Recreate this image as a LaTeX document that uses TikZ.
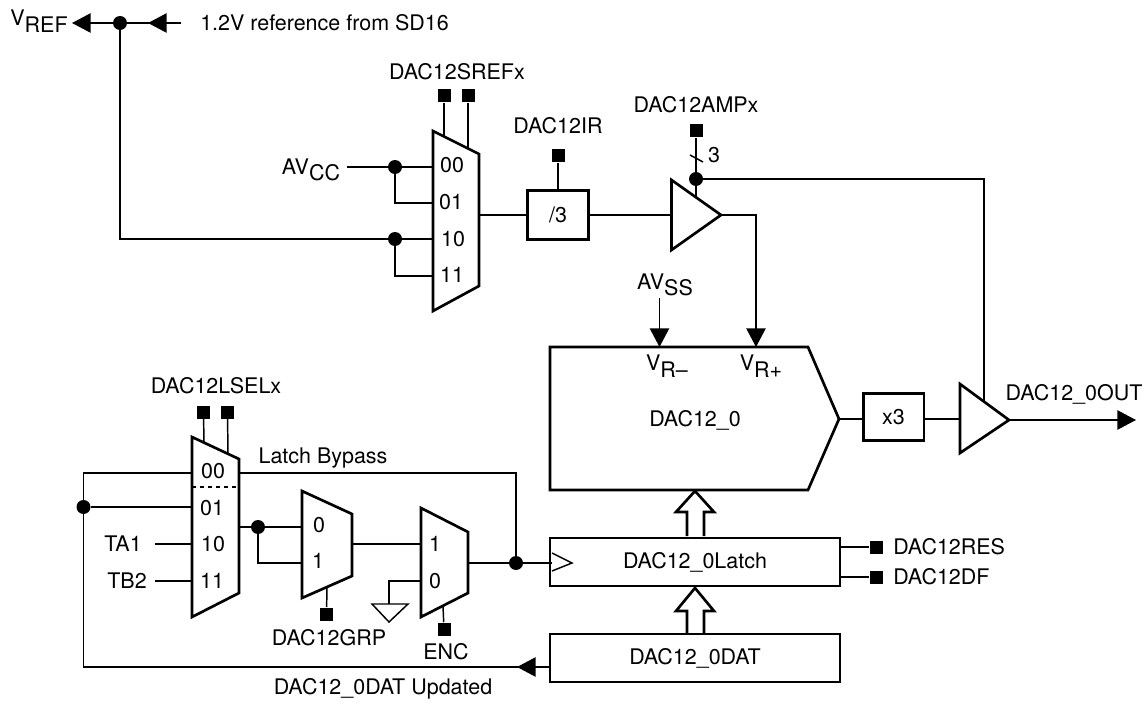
\documentclass[tikz,border=0pt]{standalone}
\usepackage{fontspec}
\setmainfont{TeX Gyre Heros}
\usetikzlibrary{arrows.meta}
\newcommand{\lowered}[2]{#1\raisebox{-5pt}{#2}}

\tikzset{
    wire/.style={line width=1.1pt},
    outline/.style={line width=2pt, line join=miter},
    flow/.style={line width=1.1pt, -{Triangle[length=14pt,width=14.5pt]}},
    textlabel/.style={inner sep=0pt, font=\fontsize{16.1}{19}\selectfont},
    blockbox/.style={draw, line width=2pt, inner sep=0pt, font=\fontsize{16.1}{19}\selectfont},
    junction/.style={circle, fill=black, inner sep=0pt, minimum size=10.5pt},
    pad/.style={rectangle, fill=black, inner sep=0pt, minimum size=9.75pt}
}

\begin{document}
\begin{tikzpicture}[x=0.75pt, y=-0.75pt, >=Stealth]

    \useasboundingbox (0,0) rectangle (1147,706);

    % reference select at the top
    \node[textlabel] (vref) at (39,21) {\lowered{V}{REF}};
    \node[textlabel, anchor=west] (refsrc) at (200,23) {1.2V reference from SD16};
    \node[junction] (vrefdot) at (120,23) {};
    \coordinate (vreftip) at (72,23);
    \coordinate (srctail) at (181,23);
    \coordinate (srctip) at (148,23);

    \draw[flow] (vrefdot) -- (vreftip);
    \draw[wire] (srctail) -- (vrefdot);
    \draw[flow] (srctail) -- (srctip);

    \draw[outline] (433,131) -- (479,154) -- (479,286) -- (433,311) -- cycle;
    \coordinate (srefa) at (433,167);
    \coordinate (srefb) at (433,203);
    \coordinate (srefc) at (433,239);
    \coordinate (srefd) at (433,276);
    \coordinate (srefout) at (480,215);
    \coordinate (srefsela) at (444,136);
    \coordinate (srefselb) at (468,149);

    \node[textlabel] at (452,165) {00};
    \node[textlabel] at (451,202) {01};
    \node[textlabel] at (453,239) {10};
    \node[textlabel] at (452,275) {11};
    \node[textlabel] at (457,72) {DAC12SREFx};

    \node[pad] (srefpada) at (444,96) {};
    \node[pad] (srefpadb) at (468,96) {};
    \draw[wire] (srefpada) -- (srefsela);
    \draw[wire] (srefpadb) -- (srefselb);

    \node[textlabel] (avcc) at (311,170) {\lowered{AV}{CC}};
    \coordinate (avcctail) at (347,167);
    \node[junction] (avccdot) at (395,167) {};
    \node[junction] (vrefin) at (395,239) {};

    \draw[wire] (avcctail) -- (srefa);
    \draw[wire] (avccdot) |- (srefb);
    \draw[wire] (vrefdot) |- (srefc);
    \draw[wire] (vrefin) |- (srefd);

    % divider and amplifier
    \node[blockbox, minimum width=46pt, minimum height=36.5pt] (div) at (558,215) {/3};
    \node[textlabel] at (558,126) {DAC12IR};
    \node[pad] (irpad) at (558,156) {};
    \draw[wire] (irpad) -- (div);
    \draw[wire] (srefout) -- (div);

    \draw[outline] (671.5,180) -- (721,215) -- (671.5,250) -- cycle;
    \coordinate (ampin) at (671.5,215);
    \coordinate (ampout) at (721,215);
    \coordinate (ampsel) at (696,197);
    \draw[wire] (div) -- (ampin);

    \node[textlabel] at (696,105) {DAC12AMPx};
    \node[pad] (amppad) at (696,131) {};
    \node[junction] (ampdot) at (696,179) {};
    \draw[wire] (amppad) -- (ampsel);
    \draw[wire] (690,155) -- (703,162);
    \node[textlabel] at (714,155) {3};

    % converter
    \draw[outline] (550,347) -- (808,347) -- (839,419) -- (808,490) -- (550,490) -- cycle;
    \coordinate (dacout) at (839,419);
    \coordinate (vrminus) at (659.5,347);
    \coordinate (vrplus) at (756,347);
    \coordinate (avsstail) at (659.5,298);

    \node[textlabel] (avss) at (665,285) {\lowered{AV}{SS}};
    \node[textlabel] at (667,366) {\lowered{V}{R--}};
    \node[textlabel] at (761,366) {\lowered{V}{R+}};
    \node[textlabel] (dac) at (695,420) {DAC12\_0};

    \draw[flow] (avsstail) -- (vrminus);
    \draw[flow] (ampout) -| (vrplus);

    \node[blockbox, minimum width=45.5pt, minimum height=35.5pt] (xthree) at (893.5,417) {x3};
    \draw[wire] (dacout) -- (xthree.west |- dacout);

    \draw[outline] (960,384) -- (1009,420) -- (960,453) -- cycle;
    \coordinate (bufin) at (960,419);
    \coordinate (bufout) at (1009,420);
    \coordinate (buffb) at (984,402);
    \coordinate (outtip) at (1136,420);
    \draw[wire] (xthree.east |- bufin) -- (bufin);
    \draw[flow] (bufout) -- (outtip);
    \draw[wire] (ampdot) -| (buffb);
    \node[textlabel] at (1074,394) {DAC12\_0OUT};

    % latch and data register
    \node[blockbox, minimum width=217.5pt, minimum height=36pt] (latch) at (695,562) {DAC12\_0Latch};
    \node[blockbox, minimum width=217.5pt, minimum height=36pt] (dat) at (695,658) {DAC12\_0DAT};

    \draw[outline] (687,536) -- (687,512) -- (676,512) -- (695,491) -- (714,512) -- (704,512) -- (704,536);
    \draw[outline] (687,633) -- (687,611) -- (676,611) -- (695,588) -- (714,611) -- (704,611) -- (704,633);
    \draw[wire] (552,553) -- (572,563) -- (552,571);

    \node[pad] (respad) at (876,547) {};
    \node[pad] (dfpad) at (876,577) {};
    \coordinate (resout) at (840,547);
    \coordinate (dfout) at (840,577);
    \draw[wire] (resout) -- (respad);
    \draw[wire] (dfout) -- (dfpad);
    \node[textlabel, anchor=west] at (893,547) {DAC12RES};
    \node[textlabel, anchor=west] at (893,577) {DAC12DF};

    % load select muxes
    \draw[outline] (192,437) -- (239,459) -- (239,593) -- (192,617) -- cycle;
    \draw[wire, dashed] (192,487) -- (239,487);
    \coordinate (lsela) at (192,473);
    \coordinate (lselb) at (192,507);
    \coordinate (lselc) at (192,544);
    \coordinate (lseld) at (192,581);
    \coordinate (lselbypass) at (239,473);
    \coordinate (lselout) at (239,527);
    \coordinate (lselseta) at (204,443);
    \coordinate (lselsetb) at (228,454);

    \node[textlabel] at (213,471) {00};
    \node[textlabel] at (212,508) {01};
    \node[textlabel] at (213,544) {10};
    \node[textlabel] at (212,581) {11};
    \node[textlabel] at (216,386) {DAC12LSELx};

    \node[pad] (lselpada) at (203.5,412) {};
    \node[pad] (lselpadb) at (227.5,412) {};
    \draw[wire] (lselpada) -- (lselseta);
    \draw[wire] (lselpadb) -- (lselsetb);

    \node[textlabel] (taone) at (123,544) {TA1};
    \node[textlabel] (tbtwo) at (127,581) {TB2};
    \coordinate (tatail) at (155,544);
    \coordinate (tbtail) at (155,581);
    \draw[wire] (tatail) -- (lselc);
    \draw[wire] (tbtail) -- (lseld);

    \node[junction] (updot) at (83.5,507) {};
    \node[junction] (lseldot) at (258,527) {};
    \node[junction] (clkdot) at (516,563) {};
    \coordinate (updcorner) at (83.5,667);
    \coordinate (datleft) at (550,667);
    \coordinate (dattip) at (517,667);

    \draw[wire] (datleft) -- (updcorner) |- (lsela);
    \draw[wire] (updot) -- (lselb);
    \draw[flow] (datleft) -- (dattip);
    \draw[wire] (lselbypass) -| (clkdot);
    \node[textlabel] at (323,458) {Latch Bypass};
    \node[textlabel] at (383,689) {DAC12\_0DAT Updated};

    \draw[outline] (302,491) -- (352,514) -- (352,576) -- (302,598) -- cycle;
    \coordinate (grpa) at (302,527);
    \coordinate (grpb) at (302,563);
    \coordinate (grpout) at (352,544);
    \coordinate (grpsel) at (327,587);
    \node[textlabel] at (319,525) {0};
    \node[textlabel] at (318,561) {1};
    \node[pad] (grppad) at (326.5,614) {};
    \node[textlabel] at (329,638) {DAC12GRP};
    \draw[wire] (lselout) -- (grpa);
    \draw[wire] (lseldot) |- (grpb);
    \draw[wire] (grppad) -- (grpsel);

    \draw[outline] (421,508) -- (468,532) -- (468,593) -- (421,617) -- cycle;
    \coordinate (enca) at (421,544);
    \coordinate (encb) at (421,581);
    \coordinate (encout) at (468,563);
    \coordinate (encsel) at (443,606);
    \coordinate (gndtop) at (389,604);
    \node[textlabel] at (435,544) {1};
    \node[textlabel] at (435,581) {0};
    \node[pad] (encpad) at (444,629) {};
    \node[textlabel] at (446,652) {ENC};
    \draw[wire] (grpout) -- (enca);
    \draw[wire] (encb) -| (gndtop);
    \draw[wire] (encpad) -- (encsel);
    \draw[wire, line join=miter] (372,604) -- (408,604) -- (389,622) -- cycle;

    \coordinate (latchclk) at (552,563);
    \draw[wire] (encout) -- (latchclk);

\end{tikzpicture}
\end{document}
